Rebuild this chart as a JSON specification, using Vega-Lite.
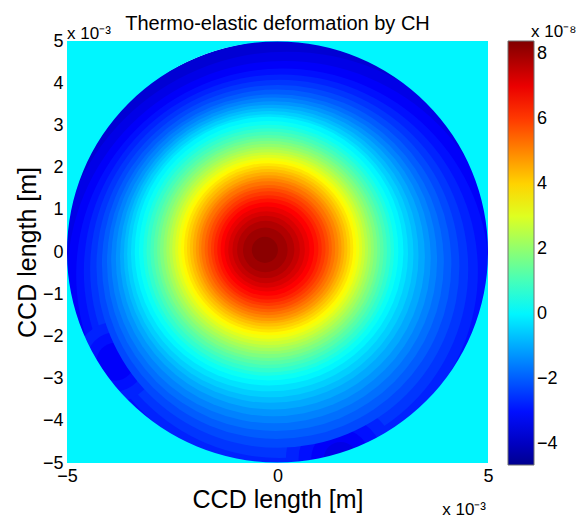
{
  "$schema": "https://vega.github.io/schema/vega-lite/v6.json",
  "width": 421,
  "height": 422,
  "autosize": {"type": "none"},
  "padding": {"left": 67, "top": 41, "right": 89, "bottom": 55},
  "background": "white",
  "title": {"text": "Thermo-elastic deformation by CH", "fontSize": 20, "fontWeight": "normal", "font": "Liberation Sans", "color": "black", "anchor": "middle", "frame": "group", "offset": 6, "dy": 17},
  "config": {
    "view": {"stroke": null},
    "axis": {"labelFont": "Liberation Sans", "titleFont": "Liberation Sans", "labelFontSize": 18, "titleFontSize": 25, "titleFontWeight": "normal", "labelColor": "black", "titleColor": "black", "domain": false, "ticks": false, "grid": false, "labelOverlap": false},
    "legend": {"labelFont": "Liberation Sans", "labelFontSize": 18, "labelColor": "black"}
  },
  "layer": [
    {
      "data": {"values": [
        {"v": -3.9, "cx": 0, "cy": 0, "r": 5},
        {"v": -3.75, "cx": 0.31, "cy": -0.87, "r": 5.92},
        {"v": -3.5, "cx": 0.23, "cy": -0.72, "r": 5.48},
        {"v": -3.25, "cx": 0.17, "cy": -0.62, "r": 5.16},
        {"v": -3, "cx": 0.12, "cy": -0.54, "r": 4.9},
        {"v": -2.75, "cx": 0.08, "cy": -0.46, "r": 4.68},
        {"v": -2.5, "cx": 0.04, "cy": -0.4, "r": 4.49},
        {"v": -2.75, "cx": -3.85, "cy": -2.6, "r": 0.95},
        {"v": -3, "cx": -3.85, "cy": -2.6, "r": 0.7},
        {"v": -3.25, "cx": -3.85, "cy": -2.6, "r": 0.45},
        {"v": -2.75, "cx": 1.5, "cy": -4.9, "r": 1.3},
        {"v": -3, "cx": 1.5, "cy": -4.9, "r": 1.0},
        {"v": -3.25, "cx": 1.5, "cy": -4.9, "r": 0.7},
        {"v": -3.5, "cx": 1.5, "cy": -4.9, "r": 0.4},
        {"v": -2.25, "cx": 0.01, "cy": -0.34, "r": 4.31},
        {"v": -2, "cx": -0.02, "cy": -0.29, "r": 4.15},
        {"v": -1.75, "cx": -0.05, "cy": -0.25, "r": 4},
        {"v": -1.5, "cx": -0.08, "cy": -0.2, "r": 3.87},
        {"v": -1.25, "cx": -0.1, "cy": -0.16, "r": 3.74},
        {"v": -1, "cx": -0.12, "cy": -0.12, "r": 3.62},
        {"v": -0.75, "cx": -0.15, "cy": -0.08, "r": 3.5},
        {"v": -0.5, "cx": -0.17, "cy": -0.05, "r": 3.4},
        {"v": -0.25, "cx": -0.19, "cy": -0.02, "r": 3.29},
        {"v": 0, "cx": -0.2, "cy": 0.02, "r": 3.19},
        {"v": 0.25, "cx": -0.21, "cy": 0.03, "r": 3.08},
        {"v": 0.5, "cx": -0.21, "cy": 0.04, "r": 2.98},
        {"v": 0.75, "cx": -0.21, "cy": 0.04, "r": 2.9},
        {"v": 1, "cx": -0.21, "cy": 0.05, "r": 2.81},
        {"v": 1.25, "cx": -0.21, "cy": 0.05, "r": 2.73},
        {"v": 1.5, "cx": -0.21, "cy": 0.06, "r": 2.65},
        {"v": 1.75, "cx": -0.21, "cy": 0.06, "r": 2.58},
        {"v": 2, "cx": -0.21, "cy": 0.07, "r": 2.5},
        {"v": 2.25, "cx": -0.21, "cy": 0.07, "r": 2.43},
        {"v": 2.5, "cx": -0.21, "cy": 0.08, "r": 2.36},
        {"v": 2.75, "cx": -0.21, "cy": 0.08, "r": 2.29},
        {"v": 3, "cx": -0.21, "cy": 0.09, "r": 2.22},
        {"v": 3.25, "cx": -0.21, "cy": 0.09, "r": 2.15},
        {"v": 3.5, "cx": -0.21, "cy": 0.1, "r": 2.08},
        {"v": 3.75, "cx": -0.21, "cy": 0.1, "r": 2.01},
        {"v": 4, "cx": -0.21, "cy": 0.1, "r": 1.94},
        {"v": 4.25, "cx": -0.21, "cy": 0.1, "r": 1.87},
        {"v": 4.5, "cx": -0.21, "cy": 0.1, "r": 1.8},
        {"v": 4.75, "cx": -0.21, "cy": 0.09, "r": 1.73},
        {"v": 5, "cx": -0.21, "cy": 0.09, "r": 1.66},
        {"v": 5.25, "cx": -0.22, "cy": 0.09, "r": 1.59},
        {"v": 5.5, "cx": -0.22, "cy": 0.08, "r": 1.51},
        {"v": 5.75, "cx": -0.22, "cy": 0.08, "r": 1.44},
        {"v": 6, "cx": -0.22, "cy": 0.08, "r": 1.36},
        {"v": 6.25, "cx": -0.23, "cy": 0.07, "r": 1.28},
        {"v": 6.5, "cx": -0.23, "cy": 0.07, "r": 1.2},
        {"v": 6.75, "cx": -0.24, "cy": 0.07, "r": 1.11},
        {"v": 7, "cx": -0.25, "cy": 0.07, "r": 1.01},
        {"v": 7.25, "cx": -0.26, "cy": 0.06, "r": 0.91},
        {"v": 7.5, "cx": -0.27, "cy": 0.06, "r": 0.8},
        {"v": 7.75, "cx": -0.28, "cy": 0.06, "r": 0.68},
        {"v": 8, "cx": -0.29, "cy": 0.05, "r": 0.53},
        {"v": 8.25, "cx": -0.3, "cy": 0.05, "r": 0.31}
      ]},
      "mark": {"type": "arc", "theta": 0, "theta2": 6.2832, "clip": true},
      "encoding": {
        "x": {"field": "cx", "type": "quantitative", "scale": {"domain": [-5, 5], "nice": false, "zero": false}, "axis": {"values": [-5, 0, 5], "title": "CCD length [m]", "labelPadding": 4, "titlePadding": 2, "labelFlush": false}},
        "y": {"field": "cy", "type": "quantitative", "scale": {"domain": [-5, 5], "nice": false, "zero": false}, "axis": {"values": [-5, -4, -3, -2, -1, 0, 1, 2, 3, 4, 5], "title": "CCD length [m]", "labelPadding": 4, "titlePadding": 2, "labelFlush": false}},
        "radius": {"field": "r", "type": "quantitative", "stack": null, "scale": {"type": "linear", "domain": [0, 5], "range": [0, {"expr": "width/2"}], "zero": true}},
        "color": {"field": "v", "type": "quantitative",
          "scale": {"type": "linear", "domain": [-4.64, -3.19, 0.12, 3.43, 6.74, 8.39], "range": ["#00008f", "#0000ff", "#00ffff", "#ffff00", "#ff0000", "#800000"], "interpolate": "rgb"},
          "legend": {"title": null, "values": [-4, -2, 0, 2, 4, 6, 8], "gradientLength": 424, "gradientThickness": 26, "offset": 20, "padding": 0, "labelOffset": 3, "gradientStrokeColor": "#6e6e6e", "gradientStrokeWidth": 1, "orient": "right", "direction": "vertical"}}
      }
    },
    {
      "data": {"values": [{"v": 0, "cx": 0, "cy": 0, "r": 5, "r2": 7.2}]},
      "mark": {"type": "arc", "theta": 0, "theta2": 6.2832, "clip": true},
      "encoding": {
        "x": {"field": "cx", "type": "quantitative"},
        "y": {"field": "cy", "type": "quantitative"},
        "radius": {"field": "r2", "type": "quantitative", "stack": null},
        "radius2": {"field": "r"},
        "color": {"field": "v", "type": "quantitative"}
      }
    },
    {
      "data": {"values": [{"cx": -5, "cy": 5, "t": "x 10⁻³"}]},
      "mark": {"type": "text", "align": "left", "baseline": "alphabetic", "dy": -2, "fontSize": 17, "font": "Liberation Sans", "color": "black"},
      "encoding": {"x": {"field": "cx", "type": "quantitative"}, "y": {"field": "cy", "type": "quantitative"}, "text": {"field": "t"}}
    },
    {
      "data": {"values": [{"cx": 5, "cy": -5, "t": "x 10⁻³"}]},
      "mark": {"type": "text", "align": "right", "baseline": "alphabetic", "dx": -2, "dy": 52, "fontSize": 17, "font": "Liberation Sans", "color": "black"},
      "encoding": {"x": {"field": "cx", "type": "quantitative"}, "y": {"field": "cy", "type": "quantitative"}, "text": {"field": "t"}}
    },
    {
      "data": {"values": [{"cx": 5, "cy": 5, "t": "x 10⁻⁸"}]},
      "mark": {"type": "text", "align": "left", "baseline": "alphabetic", "dx": 43, "dy": -4, "fontSize": 17, "font": "Liberation Sans", "color": "black"},
      "encoding": {"x": {"field": "cx", "type": "quantitative"}, "y": {"field": "cy", "type": "quantitative"}, "text": {"field": "t"}}
    }
  ]
}
